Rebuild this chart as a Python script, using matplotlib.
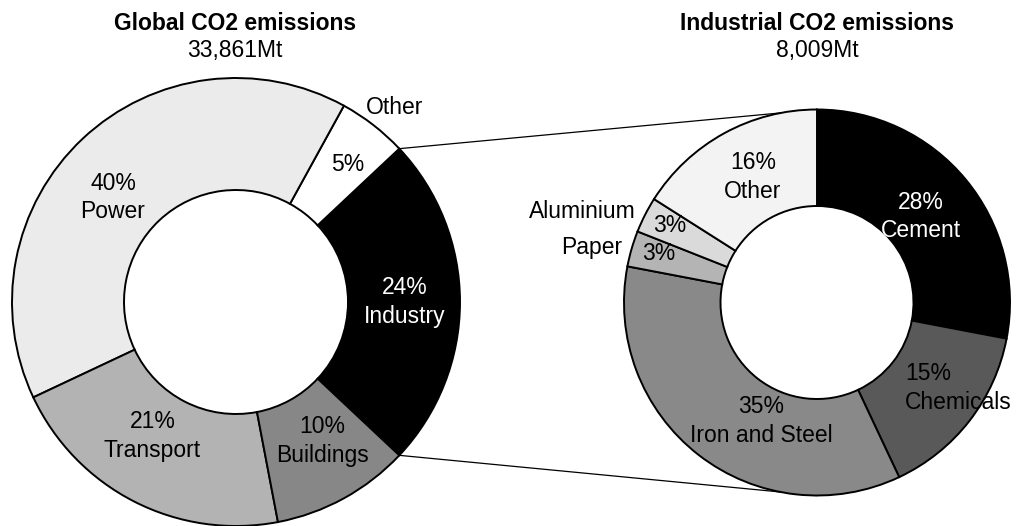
import numpy as np
import matplotlib
matplotlib.use("Agg")
import matplotlib.pyplot as plt

plt.rcParams['font.family'] = ['Liberation Sans', 'DejaVu Sans']

# global emissions by sector (counter-clockwise from the Industry wedge)
global_sectors = ['Industry', 'Other', 'Power', 'Transport', 'Buildings']
global_share = [24, 5, 40, 21, 10]
global_colors = ['#000000', '#ffffff', '#ebebeb', '#b3b3b3', '#878787']
global_total = '33,861Mt'

# industrial emissions by subsector (clockwise from the top)
ind_sectors = ['Cement', 'Chemicals', 'Iron and Steel', 'Paper', 'Aluminium', 'Other']
ind_share = [28, 15, 35, 3, 3, 16]
ind_colors = ['#000000', '#595959', '#898989', '#b4b4b4', '#dadada', '#f3f3f3']
ind_total = '8,009Mt'

W, H = 1016, 526
fig = plt.figure(figsize=(W / 100, H / 100), dpi=100)
ax = fig.add_axes([0, 0, 1, 1])

FS = 16.5
LS = 1.3
cL, RL = (236, H - 302), 224
cR, RR = (817, H - 302.5), 193

wl, _ = ax.pie(global_share, colors=global_colors, startangle=-43.2,
               counterclock=True, center=cL, radius=RL,
               wedgeprops=dict(width=RL * 0.5, edgecolor='black', linewidth=1.4))
wr, _ = ax.pie(ind_share, colors=ind_colors, startangle=90,
               counterclock=False, center=cR, radius=RR,
               wedgeprops=dict(width=RR * 0.5, edgecolor='black', linewidth=1.4))


def pos(c, R, ang, r):
    a = np.radians(ang)
    return c[0] + r * R * np.cos(a), c[1] + r * R * np.sin(a)


def mid(w):
    return (w.theta1 + w.theta2) / 2


# connector lines from the Industry wedge to the right donut
ind = wl[0]
for th, dy in [(ind.theta2, RR), (ind.theta1, -RR)]:
    x0, y0 = pos(cL, RL, th, 1.0)
    ax.plot([x0, cR[0]], [y0, cR[1] + dy], color='black', lw=0.9, zorder=0)

# left labels: (angle offset, radius fraction)
left_lab = [(0, 0.755), (-1.2, 0.79), (6.5, 0.72), (-5, 0.705), (3, 0.73)]
for w, name, v, (da, r) in zip(wl, global_sectors, global_share, left_lab):
    col = 'white' if w.get_facecolor()[0] < 0.3 else 'black'
    x, y = pos(cL, RL, mid(w) + da, r)
    txt = f'{v}%' if name == 'Other' else f'{v}%\n{name}'
    ax.text(x, y, txt, ha='center', va='center', fontsize=FS, color=col,
            linespacing=LS)
x, y = pos(cL, RL, mid(wl[1]) - 1.5, 1.12)
ax.text(x, y, 'Other', ha='center', va='center', fontsize=FS)

# right labels
right_lab = {'Cement': (0, 0.70), 'Iron and Steel': (12.5, 0.68),
             'Other': (-1.8, 0.73)}
for w, name, v in zip(wr, ind_sectors, ind_share):
    col = 'white' if w.get_facecolor()[0] < 0.2 else 'black'
    if name in right_lab:
        da, r = right_lab[name]
        x, y = pos(cR, RR, mid(w) + da, r)
        ax.text(x, y, f'{v}%\n{name}', ha='center', va='center', fontsize=FS,
                color=col, linespacing=LS)
    elif name == 'Chemicals':
        x, y = pos(cR, RR, mid(w) - 6.4, 0.636)
        ax.text(x, y, f'{v}%\n{name}', ha='left', va='center', fontsize=FS,
                color=col, linespacing=LS, multialignment='left')
    else:
        x, y = pos(cR, RR, mid(w) - 0.8, 0.86)
        ax.text(x, y, f'{v}%', ha='center', va='center', fontsize=FS, color=col)
        x, y = pos(cR, RR, mid(w) + 0.4, 1.05)
        ax.text(x, y, name, ha='right', va='center', fontsize=FS)

# titles
ax.text(cL[0] - 1, H - 23, 'Global CO2 emissions', ha='center', va='center',
        fontsize=FS, fontweight='bold')
ax.text(cL[0] - 1, H - 51, global_total, ha='center', va='center', fontsize=FS)
ax.text(cR[0], H - 23, 'Industrial CO2 emissions', ha='center', va='center',
        fontsize=FS, fontweight='bold')
ax.text(cR[0], H - 51, ind_total, ha='center', va='center', fontsize=FS)

ax.set_xlim(0, W)
ax.set_ylim(0, H)
ax.set_aspect('auto')
ax.axis('off')
fig.savefig('out.png', dpi=100)
